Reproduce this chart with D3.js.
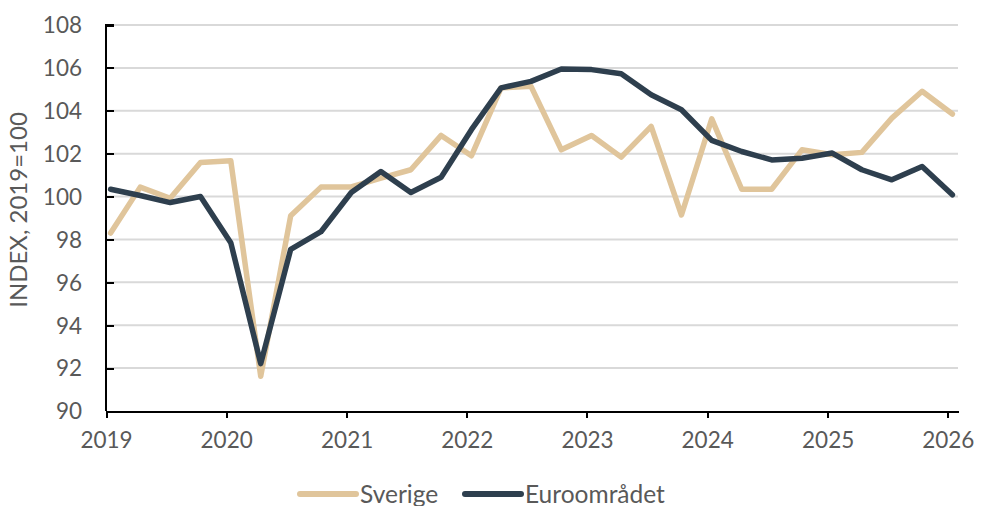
<!DOCTYPE html>
<html>
<head>
<meta charset="utf-8">
<script src="https://cdn.jsdelivr.net/npm/d3@7"></script>
<style>
  body { margin: 0; background: #fff; }
  text { font-family: Lato, "Open Sans", sans-serif; fill: #595959; }
</style>
</head>
<body>
<div id="chart"></div>
<script>
// quarterly index, 2019=100
const quarters = [
  "2019Q1", "2019Q2", "2019Q3", "2019Q4",
  "2020Q1", "2020Q2", "2020Q3", "2020Q4",
  "2021Q1", "2021Q2", "2021Q3", "2021Q4",
  "2022Q1", "2022Q2", "2022Q3", "2022Q4",
  "2023Q1", "2023Q2", "2023Q3", "2023Q4",
  "2024Q1", "2024Q2", "2024Q3", "2024Q4",
  "2025Q1", "2025Q2", "2025Q3", "2025Q4",
  "2026Q1"
];

const sverige = [
  98.3, 100.44, 99.92, 101.59,
  101.67, 91.62, 99.1, 100.44,
  100.45, 100.86, 101.25, 102.85,
  101.9, 105.07, 105.14, 102.18,
  102.85, 101.84, 103.27, 99.14,
  103.62, 100.34, 100.34, 102.18,
  101.95, 102.06, 103.66, 104.91,
  103.85
];

const euro = [
  100.34, 100.05, 99.72, 100.0,
  97.85, 92.21, 97.54, 98.36,
  100.19, 101.17, 100.19, 100.9,
  103.12, 105.07, 105.37, 105.95,
  105.92, 105.73, 104.75, 104.05,
  102.62, 102.1, 101.71, 101.79,
  102.03, 101.25, 100.78, 101.4,
  100.08
];

const yTicks = [90, 92, 94, 96, 98, 100, 102, 104, 106, 108];
const xTickYears = [2019, 2020, 2021, 2022, 2023, 2024, 2025, 2026];

const seriesNames = ["Sverige", "Euroområdet"];
const seriesColors = ["#e0c59b", "#2e3f4e"];

const width = 984, height = 506;
const margin = { top: 25, right: 26, bottom: 95, left: 106 };
const innerW = width - margin.left - margin.right;
const innerH = height - margin.top - margin.bottom;

// each quarter plotted mid-first-month
const parseQuarter = q => new Date(+q.slice(0, 4), (+q.slice(5) - 1) * 3, 15);
const dates = quarters.map(parseQuarter);

const x = d3.scaleTime()
    .domain([new Date(2019, 0, 1), new Date(2026, 1, 1)])
    .range([0, innerW]);

const y = d3.scaleLinear()
    .domain([90, 108])
    .range([innerH, 0]);

const svg = d3.select("#chart").append("svg")
    .attr("width", width)
    .attr("height", height);

const g = svg.append("g").attr("transform", `translate(${margin.left},${margin.top})`);

// gridlines
g.selectAll(".yGrid")
    .data(yTicks.filter(d => d !== 90))
    .enter()
    .append("line")
    .attr("class", "yGrid")
    .attr("x1", 0)
    .attr("x2", innerW)
    .attr("y1", d => y(d))
    .attr("y2", d => y(d))
    .attr("stroke", "#d9d9d9")
    .attr("stroke-width", 2);

// y axis, ticks pointing inward
const yAxis = g.append("g")
    .call(d3.axisRight(y).tickValues(yTicks).tickSize(8).tickFormat(d3.format("d")));
yAxis.select(".domain").attr("stroke", "#000").attr("stroke-width", 2)
    .attr("d", `M8,${y(108)}H0V${innerH}`);
yAxis.selectAll(".tick line").attr("stroke", "#000").attr("stroke-width", 2);
yAxis.selectAll(".tick text")
    .attr("x", -24)
    .attr("text-anchor", "end")
    .attr("dy", "0.35em")
    .style("font-size", "22.5px");

// x axis
const xAxis = g.append("g")
    .attr("transform", `translate(0,${innerH})`)
    .call(d3.axisBottom(x)
        .tickValues(xTickYears.map(yr => new Date(yr, 0, 1)))
        .tickSize(7)
        .tickSizeOuter(0)
        .tickFormat(d3.timeFormat("%Y")));
xAxis.select(".domain").attr("stroke", "#000").attr("stroke-width", 2);
xAxis.selectAll(".tick line").attr("stroke", "#000").attr("stroke-width", 2);
xAxis.selectAll(".tick text")
    .attr("y", 21)
    .attr("dy", "0.71em")
    .style("font-size", "22.5px");

svg.selectAll(".domain, .tick line").attr("shape-rendering", "crispEdges");

// y-axis label
g.append("text")
    .attr("transform", "rotate(-90)")
    .attr("x", -(210 - margin.top))
    .attr("y", -margin.left + 27)
    .style("text-anchor", "middle")
    .style("font-size", "24px")
    .text("INDEX, 2019=100");

// lines, eurozone drawn on top
const line = d3.line()
    .x((d, i) => x(dates[i]))
    .y(d => y(d));

[sverige, euro].forEach((data, index) => {
    g.append("path")
        .datum(data)
        .attr("fill", "none")
        .attr("d", line)
        .attr("stroke", seriesColors[index])
        .attr("stroke-width", 5.5)
        .attr("stroke-linejoin", "round")
        .attr("stroke-linecap", "round");
});

// legend
const legendX = [300, 465];
const legend = svg.append("g").attr("transform", `translate(0,494)`);
seriesNames.forEach((name, i) => {
    legend.append("line")
        .attr("x1", legendX[i])
        .attr("x2", legendX[i] + 56)
        .attr("y1", 0)
        .attr("y2", 0)
        .attr("stroke", seriesColors[i])
        .attr("stroke-width", 6)
        .attr("stroke-linecap", "round");
    legend.append("text")
        .attr("x", legendX[i] + 60)
        .attr("y", 0)
        .attr("dy", "0.35em")
        .style("font-size", "24.5px")
        .text(name);
});
</script>
</body>
</html>
